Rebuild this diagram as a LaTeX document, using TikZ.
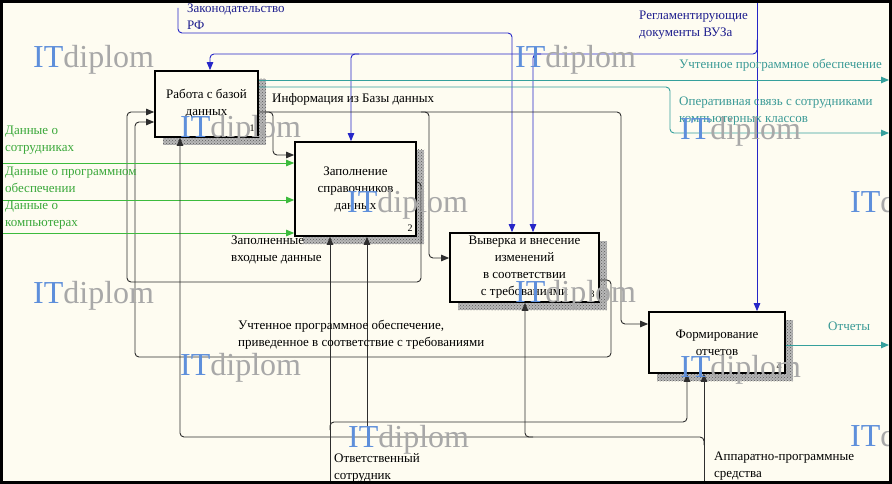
\documentclass[tikz,border=0pt]{standalone}
\usepackage{fontspec}
\setmainfont{Liberation Serif}
\usetikzlibrary{arrows.meta,patterns}
\definecolor{bg}{HTML}{FEFCF1}
\definecolor{ctl}{HTML}{2626C8}
\definecolor{ctltxt}{HTML}{1E1E8E}
\definecolor{outc}{HTML}{35A09C}
\definecolor{outtxt}{HTML}{3A9A96}
\definecolor{inc}{HTML}{3DBB3D}
\definecolor{intxt}{HTML}{3AA83A}
\definecolor{ln}{HTML}{2E2E2E}
\definecolor{wmblue}{HTML}{5E8FDB}
\definecolor{wmgray}{HTML}{A8A8A8}
\newcommand\itdip{\textcolor{wmblue}{IT}\textcolor{wmgray}{diplom}}
\begin{document}
\begin{tikzpicture}[x=1pt,y=-1pt,
  fnt/.style={font=\fontsize{13}{17}\selectfont},
  func/.style={draw=black,line width=1.7pt,fill=bg,inner sep=0pt,align=center,fnt},
  shadowfill/.style={fill=black!28,draw=none},
  shadowdots/.style={pattern=crosshatch dots,pattern color=black!65,draw=none},
  conn/.style={line width=0.9pt,rounded corners=4pt},
  arr/.style={-{Triangle[length=8pt,width=6.5pt]}},
  lbl/.style={fnt,inner sep=0pt,anchor=west,align=left},
  num/.style={font=\fontsize{10}{12}\selectfont,inner sep=0pt},
  wm/.style={font=\fontsize{32}{32}\selectfont,inner sep=0pt,anchor=base west},
]
\useasboundingbox (0,0) rectangle (892,484);
\fill[bg] (0,0) rectangle (892,484);

% shadows
\foreach \r in {{(163,79) rectangle (266,145)},{(303,150) rectangle (424,244)},{(458,241) rectangle (607,310)},{(657,320) rectangle (793,381)}}{
  \fill[shadowfill] \r;
  \fill[shadowdots] \r;
}

% boxes
\node[func,minimum width=103pt,minimum height=66pt] (b1) at (206.5,104) {Работа с базой\\данных};
\node[func,minimum width=121pt,minimum height=94pt] (b2) at (355.5,189) {Заполнение\\справочников\\данных};
\node[func,minimum width=149pt,minimum height=69pt] (b3) at (524.5,267.5) {Выверка и внесение\\изменений\\в соответствии\\с требованиями};
\node[func,minimum width=136pt,minimum height=61pt] (b4) at (717,342.5) {Формирование\\отчетов};
\node[num] (n1) at (252,128) {1};
\node[num] (n2) at (410,228) {2};
\node[num] (n3) at (592,294) {3};
\node[num] (n4) at (779,366) {4};

% free ends
\coordinate (zr) at (178,8);
\coordinate (rv) at (757,3);
\coordinate (ro1) at (889,80);
\coordinate (ro2) at (889,133);
\coordinate (ro3) at (889,345);
\coordinate (gi1) at (3,163);
\coordinate (gi2) at (3,200);
\coordinate (gi3) at (3,233);
\coordinate (m1) at (330,484);
\coordinate (m2) at (704,484);

% controls
\draw[conn,ctl,arr] (zr) -- (178,33) -- (512,33) -- (512,0 |- b3.north);
\draw[conn,ctl,arr] (rv) -- (757,0 |- b4.north);
\draw[conn,ctl,arr] (757,40) -- (757,54) -- (210,54) -- (210,0 |- b1.north);
\draw[conn,ctl,arr] (359,54) -- (351,54) -- (351,0 |- b2.north);
\draw[conn,ctl,arr] (541,54) -- (533,54) -- (533,0 |- b3.north);

% outputs of box 1
\draw[conn,outc,arr] (b1.east |- 0,80) -- (ro1);
\draw[conn,outc,arr] (b1.east |- 0,87) -- (670,87) -- (670,133) -- (ro2);
\draw[conn,ln,arr] (b1.east |- 0,112) -- (621,112) -- (621,324) -- (b4.west |- 0,324);
\draw[conn,ln,arr] (265,112) -- (273,112) -- (273,155) -- (b2.west |- 0,155);
\draw[conn,ln,arr] (421,112) -- (429,112) -- (429,258) -- (b3.west |- 0,258);

% feedback
\draw[conn,ln,arr] (b2.east |- 0,182) -- (421,182) -- (421,282) -- (127,282) -- (127,112) -- (b1.west |- 0,112);
\draw[conn,ln,arr] (b3.east |- 0,280) -- (611,280) -- (611,357) -- (135,357) -- (135,122) -- (b1.west |- 0,122);

% output of box 4
\draw[conn,outc,arr] (b4.east |- 0,345) -- (ro3);

% inputs
\draw[conn,inc,arr] (gi1) -- (b2.west |- gi1);
\draw[conn,inc,arr] (gi2) -- (b2.west |- gi2);
\draw[conn,inc,arr] (gi3) -- (b2.west |- gi3);

% mechanisms
\draw[conn,ln,arr] (m1) -- (330,0 |- b2.south);
\draw[conn,ln,arr] (330,430) -- (330,422) -- (687,422) -- (687,0 |- b4.south);
\draw[conn,ln,arr] (m2) -- (704,0 |- b4.south);
\draw[conn,ln,arr] (704,445) -- (704,437) -- (180,437) -- (180,0 |- b1.south);
\draw[conn,ln,arr] (533,437) -- (525,437) -- (525,0 |- b3.south);
\draw[conn,ln,arr] (367,437) -- (367,0 |- b2.south);

% labels
\node[lbl,ctltxt] (lz) at (187,17) {Законодательство\\РФ};
\node[lbl,ctltxt] (lr) at (639,25) {Регламентирующие\\документы ВУЗа};
\node[lbl,outtxt] (lo1) at (679,65) {Учтенное программное обеспечение};
\node[lbl,outtxt] (lo2) at (679,111.5) {Оперативная связь с сотрудниками\\компьютерных классов};
\node[lbl] (li) at (272,99) {Информация из Базы данных};
\node[lbl] (lf) at (231,250) {Заполненные\\входные данные};
\node[lbl] (lu) at (238,335) {Учтенное программное обеспечение,\\приведенное в соответствие с требованиями};
\node[lbl,outtxt] (lrep) at (828,326) {Отчеты};
\node[lbl] (lm1) at (334,468) {Ответственный\\сотрудник};
\node[lbl] (lm2) at (714,466.5) {Аппаратно-программные\\средства};
\node[lbl,intxt] (lg1) at (5,140) {Данные о\\сотрудниках};
\node[lbl,intxt] (lg2) at (5,180) {Данные о программном\\обеспечении};
\node[lbl,intxt] (lg3) at (5,215) {Данные о\\компьютерах};

% watermarks
\node[wm] (w1) at (33,68) {\itdip};
\node[wm] (w2) at (515,68) {\itdip};
\node[wm] (w3) at (180,138) {\itdip};
\node[wm] (w4) at (680,140) {\itdip};
\node[wm] (w5) at (347,212) {\itdip};
\node[wm] (w6) at (850,212) {\itdip};
\node[wm] (w7) at (33,303) {\itdip};
\node[wm] (w8) at (515,302) {\itdip};
\node[wm] (w9) at (180,375) {\itdip};
\node[wm] (w10) at (680,377) {\itdip};
\node[wm] (w11) at (348,447) {\itdip};
\node[wm] (w12) at (850,446) {\itdip};

% frame
\draw[line width=3pt] (1.5,1.5) rectangle (890.5,482.5);
\end{tikzpicture}
\end{document}
